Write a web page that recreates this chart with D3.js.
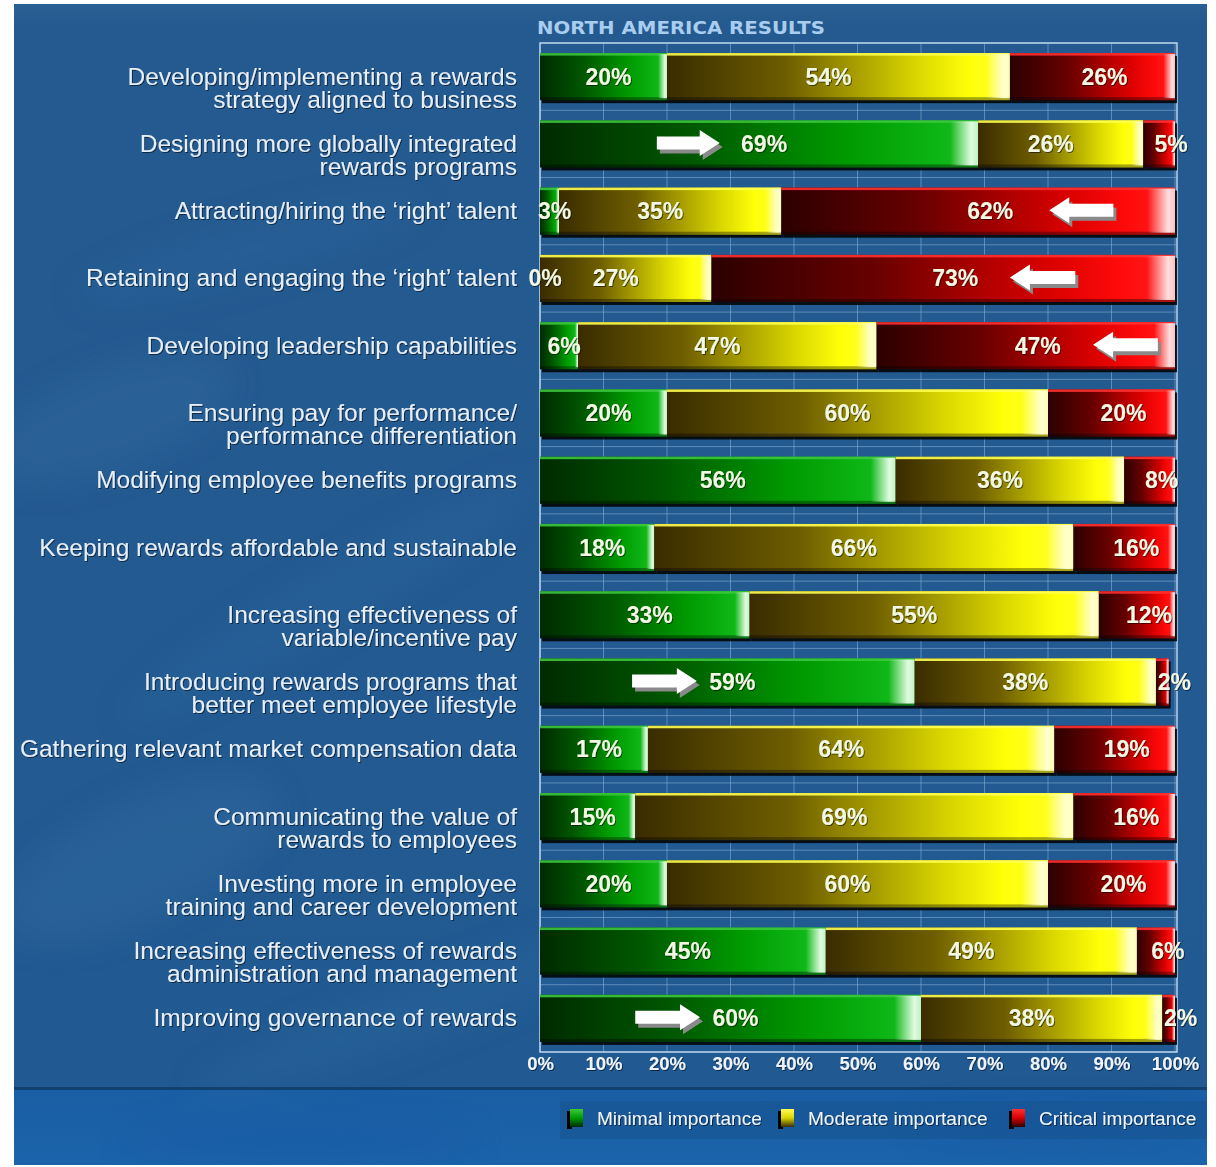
<!DOCTYPE html>
<html>
<head>
<meta charset="utf-8">
<script src="https://cdn.jsdelivr.net/npm/d3@7"></script>
<style>
  html, body { margin: 0; padding: 0; background: #ffffff; }
  svg { display: block; }
</style>
</head>
<body>
<svg id="chart" width="1216" height="1167"></svg>
<script>
// Survey items (two-line items are split with "|")
const categories = [
  "Developing/implementing a rewards|strategy aligned to business",
  "Designing more globally integrated|rewards programs",
  "Attracting/hiring the \u2018right\u2019 talent",
  "Retaining and engaging the \u2018right\u2019 talent",
  "Developing leadership capabilities",
  "Ensuring pay for performance/|performance differentiation",
  "Modifying employee benefits programs",
  "Keeping rewards affordable and sustainable",
  "Increasing effectiveness of|variable/incentive pay",
  "Introducing rewards programs that|better meet employee lifestyle",
  "Gathering relevant market compensation data",
  "Communicating the value of|rewards to employees",
  "Investing more in employee|training and career development",
  "Increasing effectiveness of rewards|administration and management",
  "Improving governance of rewards"
];

const minimal  = [20, 69,  3,  0,  6, 20, 56, 18, 33, 59, 17, 15, 20, 45, 60];
const moderate = [54, 26, 35, 27, 47, 60, 36, 66, 55, 38, 64, 69, 60, 49, 38];
const critical = [26,  5, 62, 73, 47, 20,  8, 16, 12,  2, 19, 16, 20,  6,  2];

const seriesKeys  = ["minimal", "moderate", "critical"];
const seriesNames = ["Minimal importance", "Moderate importance", "Critical importance"];

const xTicks = [0, 10, 20, 30, 40, 50, 60, 70, 80, 90, 100];
const title = "NORTH AMERICA RESULTS";

// Highlight arrows: row index, tail and head positions in percent
const arrowRows = [1, 9, 14, 2, 3, 4];
const arrowFrom = [18.4, 14.5, 15.0, 90.3, 84.3, 97.3];
const arrowTo   = [28.3, 24.7, 25.2, 80.2, 74.0, 87.1];

// ---------------------------------------------------------------
const W = 1216, H = 1167;
const plot = { left: 540, right: 1175, top: 43, bottom: 1052 };

const svg = d3.select("#chart");
const defs = svg.append("defs");

const table = categories.map((c, i) => ({
  category: c, minimal: minimal[i], moderate: moderate[i], critical: critical[i]
}));
const stacked = d3.stack().keys(seriesKeys)(table);

const x = d3.scaleLinear().domain([0, 100]).range([plot.left, plot.right]);
const y = d3.scaleBand().domain(d3.range(categories.length)).range([plot.top, plot.bottom]).padding(0);
const barH = y.bandwidth() * 0.7;

// Palettes for the glossy segments
const palettes = {
  minimal:  { stops: [[0, "#002a00"], [0.35, "#005800"], [0.7, "#009a00"], [0.9, "#0cb414"], [1, "#1cbf24"]], top: "#3cc83c", hi: "#eaffea", lab: 5 },
  moderate: { stops: [[0, "#3a2c00"], [0.35, "#6e5e00"], [0.72, "#d8d400"], [0.88, "#ffff08"], [1, "#ffff30"]], top: "#ffff50", hi: "#ffffd8", lab: -10 },
  critical: { stops: [[0, "#2c0000"], [0.35, "#680000"], [0.72, "#d80000"], [0.88, "#ff0a0a"], [1, "#ff2020"]], top: "#ff3030", hi: "#ffe8e8", lab: 12 }
};

seriesKeys.forEach(k => {
  const g = defs.append("linearGradient").attr("id", "g-" + k)
    .attr("x1", 0).attr("x2", 1).attr("y1", 0).attr("y2", 0);
  palettes[k].stops.forEach(s => g.append("stop").attr("offset", s[0]).attr("stop-color", s[1]));
  const h = defs.append("linearGradient").attr("id", "h-" + k)
    .attr("x1", 0).attr("x2", 1).attr("y1", 0).attr("y2", 0);
  h.append("stop").attr("offset", 0).attr("stop-color", palettes[k].hi).attr("stop-opacity", 0);
  h.append("stop").attr("offset", 0.75).attr("stop-color", palettes[k].hi).attr("stop-opacity", 0.95);
  h.append("stop").attr("offset", 1).attr("stop-color", palettes[k].hi).attr("stop-opacity", 0.8);
  const v = defs.append("linearGradient").attr("id", "v-" + k)
    .attr("x1", 0).attr("x2", 0).attr("y1", 0).attr("y2", 1);
  v.append("stop").attr("offset", 0).attr("stop-color", palettes[k].top);
  v.append("stop").attr("offset", 0.5).attr("stop-color", palettes[k].stops[2][1]);
  v.append("stop").attr("offset", 1).attr("stop-color", palettes[k].stops[0][1]);
});

// Background gradients
const bgTop = defs.append("linearGradient").attr("id", "bgTop").attr("x1", 0).attr("x2", 0).attr("y1", 0).attr("y2", 1);
bgTop.append("stop").attr("offset", 0).attr("stop-color", "#2a5f93");
bgTop.append("stop").attr("offset", 0.02).attr("stop-color", "#245a8f");
bgTop.append("stop").attr("offset", 1).attr("stop-color", "#215a92");
const bgBot = defs.append("linearGradient").attr("id", "bgBot").attr("x1", 0).attr("x2", 0).attr("y1", 0).attr("y2", 1);
bgBot.append("stop").attr("offset", 0).attr("stop-color", "#1a5ea4");
bgBot.append("stop").attr("offset", 1).attr("stop-color", "#1b64ab");

const soft = defs.append("filter").attr("id", "soft").attr("x", "-20%").attr("y", "-20%").attr("width", "140%").attr("height", "140%");
soft.append("feGaussianBlur").attr("stdDeviation", 16);

defs.append("clipPath").attr("id", "panelClip")
  .append("rect").attr("x", 14).attr("y", 4).attr("width", 1193).attr("height", 1161);

const txtShadow = defs.append("filter").attr("id", "txtShadow");
txtShadow.append("feDropShadow").attr("dx", 1).attr("dy", 1).attr("stdDeviation", 0.6)
  .attr("flood-color", "#000").attr("flood-opacity", 0.55);

// Panel
svg.append("rect").attr("x", 14).attr("y", 4).attr("width", 1193).attr("height", 1086).attr("fill", "url(#bgTop)");
svg.append("rect").attr("x", 14).attr("y", 1090).attr("width", 1193).attr("height", 75).attr("fill", "url(#bgBot)");

// Faint watermark texture
const wm = svg.append("g").attr("clip-path", "url(#panelClip)")
  .append("g").attr("filter", "url(#soft)").attr("opacity", 0.3);
[[110, 420, 130, 50, -20, "#3a72a6"], [140, 860, 150, 60, -25, "#3a72a6"], [330, 600, 240, 30, -30, "#2d6aa2"],
 [250, 250, 180, 28, -15, "#2d6aa2"], [420, 1010, 240, 30, -20, "#2d6aa2"], [1050, 1125, 140, 16, 0, "#1450a0"],
 [300, 1140, 180, 16, 0, "#1550a0"]].forEach(d => {
  wm.append("ellipse").attr("cx", d[0]).attr("cy", d[1]).attr("rx", d[2]).attr("ry", d[3])
    .attr("transform", `rotate(${d[4]},${d[0]},${d[1]})`).attr("fill", d[5]);
});
svg.append("rect").attr("x", 14).attr("y", 1087).attr("width", 1193).attr("height", 3).attr("fill", "#12406f");

// Grid
const grid = svg.append("g");
grid.selectAll("line.v").data(xTicks).join("line").attr("class", "v")
  .attr("x1", d => x(d)).attr("x2", d => x(d)).attr("y1", plot.top).attr("y2", plot.bottom)
  .attr("stroke", "#8fb4d8").attr("stroke-opacity", 0.55).attr("stroke-width", 1);
grid.selectAll("line.h").data(d3.range(categories.length + 1)).join("line").attr("class", "h")
  .attr("x1", plot.left).attr("x2", plot.right + 2)
  .attr("y1", d => plot.top + d * y.step()).attr("y2", d => plot.top + d * y.step())
  .attr("stroke", "#8fb4d8").attr("stroke-opacity", 0.55).attr("stroke-width", 1);
svg.append("rect").attr("x", plot.left).attr("y", plot.top)
  .attr("width", plot.right + 2 - plot.left).attr("height", plot.bottom - plot.top)
  .attr("fill", "none").attr("stroke", "#b8d2ec").attr("stroke-width", 1.5);

// Bars
const barY = i => y(i) + (y.bandwidth() - barH) / 2;
const segs = [];
stacked.forEach(s => s.forEach((d, i) => segs.push({ key: s.key, i, x0: d[0], x1: d[1], v: d[1] - d[0] })));

const bars = svg.append("g");
// drop shadows
bars.selectAll("rect.shadow").data(segs.filter(d => d.v > 0)).join("rect").attr("class", "shadow")
  .attr("x", d => x(d.x0) + 2).attr("y", d => barY(d.i) + 3)
  .attr("width", d => x(d.x1) - x(d.x0)).attr("height", barH)
  .attr("fill", "#000").attr("opacity", 0.85);
const segG = bars.selectAll("g.seg").data(segs.filter(d => d.v > 0)).join("g").attr("class", "seg");
segG.append("rect")
  .attr("x", d => x(d.x0)).attr("y", d => barY(d.i))
  .attr("width", d => x(d.x1) - x(d.x0)).attr("height", barH)
  .attr("fill", d => `url(#g-${d.key})`);
// top bevel
segG.append("rect")
  .attr("x", d => x(d.x0)).attr("y", d => barY(d.i))
  .attr("width", d => x(d.x1) - x(d.x0)).attr("height", 2.5)
  .attr("fill", d => palettes[d.key].top).attr("opacity", 0.9);
// bottom darkening
segG.append("rect")
  .attr("x", d => x(d.x0)).attr("y", d => barY(d.i) + barH - 3)
  .attr("width", d => x(d.x1) - x(d.x0)).attr("height", 3)
  .attr("fill", "#000").attr("opacity", 0.35);
// glossy right end
segG.append("rect")
  .attr("x", d => { const w = x(d.x1) - x(d.x0); return x(d.x1) - Math.max(3, Math.min(28, w * 0.07)); })
  .attr("y", d => barY(d.i) + 1)
  .attr("width", d => { const w = x(d.x1) - x(d.x0); return Math.max(3, Math.min(28, w * 0.07)); })
  .attr("height", barH - 3)
  .attr("fill", d => `url(#h-${d.key})`);

// Value labels
svg.append("g").selectAll("text").data(segs).join("text")
  .attr("x", d => x((d.x0 + d.x1) / 2) + palettes[d.key].lab)
  .attr("y", d => barY(d.i) + barH / 2 + 8)
  .attr("text-anchor", "middle")
  .attr("font-family", "'Liberation Sans', Arial, sans-serif")
  .attr("font-weight", "bold").attr("font-size", 23)
  .attr("fill", "#f2f8e4").attr("filter", "url(#txtShadow)")
  .text(d => d.v + "%");

// Arrows
const arrows = arrowRows.map((r, k) => ({ row: r, from: arrowFrom[k], to: arrowTo[k] }));
function arrowPath(x0, x1, cy) {
  const dir = x1 > x0 ? 1 : -1, L = Math.abs(x1 - x0), head = 20, sh = 6.5, hh = 13;
  const px = t => x0 + dir * t;
  return `M${px(0)},${cy - sh} L${px(L - head)},${cy - sh} L${px(L - head)},${cy - hh} L${px(L)},${cy} ` +
         `L${px(L - head)},${cy + hh} L${px(L - head)},${cy + sh} L${px(0)},${cy + sh} Z`;
}
const ag = svg.append("g");
ag.selectAll("path.sh").data(arrows).join("path").attr("class", "sh")
  .attr("d", d => arrowPath(x(d.from), x(d.to), barY(d.row) + barH / 2 - 1))
  .attr("transform", "translate(3,4)").attr("fill", "#8a8a8a");
ag.selectAll("path.ar").data(arrows).join("path").attr("class", "ar")
  .attr("d", d => arrowPath(x(d.from), x(d.to), barY(d.row) + barH / 2 - 1))
  .attr("fill", "#ffffff");

// Category labels
const catG = svg.append("g");
categories.forEach((c, i) => {
  const lines = c.split("|");
  const t = catG.append("text")
    .attr("text-anchor", "end")
    .attr("font-family", "'Liberation Sans', Arial, sans-serif")
    .attr("font-size", 24.5).attr("fill", "#e6eef8").attr("filter", "url(#txtShadow)");
  lines.forEach((ln, j) => {
    t.append("tspan").attr("x", 517).attr("y", barY(i) + barH / 2 + 8 + j * 23).text(ln);
  });
});

// X axis tick labels
const axis = d3.axisBottom(x).tickValues(xTicks).tickSize(0).tickPadding(0).tickFormat(d => d + "%");
const axG = svg.append("g").attr("transform", `translate(0,${plot.bottom + 4})`).call(axis);
axG.select(".domain").remove();
axG.selectAll("text")
  .attr("dy", 0).attr("y", 14)
  .attr("font-family", "'Liberation Sans', Arial, sans-serif")
  .attr("font-weight", "bold").attr("font-size", 18.5)
  .attr("fill", "#eef4fb").attr("filter", "url(#txtShadow)");

// Title
svg.append("text").attr("x", 537).attr("y", 34)
  .attr("font-family", "'DejaVu Sans', Verdana, sans-serif").attr("font-weight", "bold")
  .attr("font-size", 17).attr("textLength", 288).attr("lengthAdjust", "spacingAndGlyphs")
  .attr("fill", "#a9cdee").text(title);

// Legend
const lg = svg.append("g");
lg.append("rect").attr("x", 560).attr("y", 1101).attr("width", 647).attr("height", 38)
  .attr("fill", "#164f8a").attr("opacity", 0.45);
const legX = [570, 781, 1012];
seriesKeys.forEach((k, j) => {
  const gx = legX[j], gy = 1109;
  lg.append("rect").attr("x", gx - 3).attr("y", gy + 2).attr("width", 5).attr("height", 18).attr("fill", "#000");
  lg.append("rect").attr("x", gx).attr("y", gy).attr("width", 13).attr("height", 18).attr("fill", `url(#v-${k})`);
  lg.append("text").attr("x", gx + 27).attr("y", gy + 16)
    .attr("font-family", "'Liberation Sans', Arial, sans-serif").attr("font-size", 19)
    .attr("fill", "#eef4fb").attr("filter", "url(#txtShadow)").text(seriesNames[j]);
});
</script>
</body>
</html>
